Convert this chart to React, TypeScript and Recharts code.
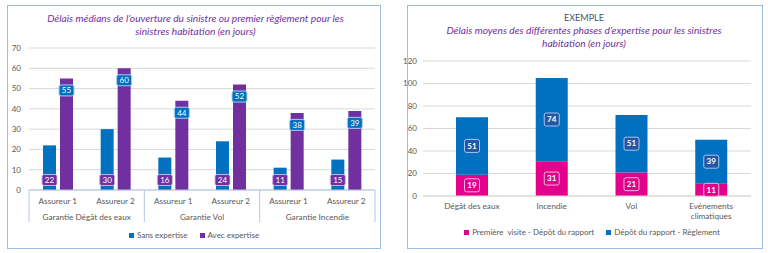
import React from 'react';
import { BarChart, Bar, XAxis, YAxis, CartesianGrid, LabelList } from 'recharts';

// ---------- Left chart data ----------
const assureurs = ['Assureur 1', 'Assureur 2', 'Assureur 1', 'Assureur 2', 'Assureur 1', 'Assureur 2'];
const garanties = [
  'Garantie Dégât des eaux', 'Garantie Dégât des eaux',
  'Garantie Vol', 'Garantie Vol',
  'Garantie Incendie', 'Garantie Incendie',
];
const sansExpertise = [22, 30, 16, 24, 11, 15];
const avecExpertise = [55, 60, 44, 52, 38, 39];
const leftTicks = [0, 10, 20, 30, 40, 50, 60, 70];
const leftTitle1 = "Délais médians de l\u2019ouverture du sinistre ou premier règlement pour les";
const leftTitle2 = 'sinistres habitation (en jours)';
const leftSeries = ['Sans expertise', 'Avec expertise'];

// ---------- Right chart data ----------
const phasesCategories = ['Dégât des eaux', 'Incendie', 'Vol', 'Evénements climatiques'];
const premiereVisite = [19, 31, 21, 11];
const depotReglement = [51, 74, 51, 39];
const rightTicks = [0, 20, 40, 60, 80, 100, 120];
const rightHeader = 'EXEMPLE';
const rightTitle1 = "Délais moyens des différentes phases d\u2019expertise pour les sinistres";
const rightTitle2 = 'habitation (en jours)';
const rightSeries = ['Première  visite - Dépôt du rapport', 'Dépôt du rapport - Règlement'];

const leftData = assureurs.map((a, i) => ({
  assureur: a,
  group: garanties[i],
  sans: sansExpertise[i],
  avec: avecExpertise[i],
}));

const rightData = phasesCategories.map((c, i) => ({
  cat: c,
  premiere: premiereVisite[i],
  depot: depotReglement[i],
}));

const FONT = 'Lato, "Open Sans", sans-serif';
const BLUE = '#0070C0';
const PURPLE = '#7030A0';
const PINK = '#E3008C';
const DARKBLUE = '#2356A4';
const AXIS_TXT = '#595959';
const SEP = '#B4C7E7';
const PANEL = '#9DBCE3';

// left chart layout
const L_W = 384;
const L_H = 253;
const L_MARGIN = { top: 48, right: 9, bottom: 31, left: 0 };
const L_YW = 29;
const L_PLOT_W = L_W - L_MARGIN.left - L_MARGIN.right - L_YW;

const makeBoxLabel = (fill: string, stroke: string, pos: 'base' | 'end' | 'mid', w: number, h: number, bold: boolean) =>
  (props: any) => {
    const x = Number(props.x);
    const y = Number(props.y);
    const width = Number(props.width);
    const height = Number(props.height);
    const cx = x + width / 2;
    let cy = y + height / 2;
    if (pos === 'base') cy = y + height - 10;
    if (pos === 'end') cy = y + 12;
    return (
      <g>
        <rect x={cx - w / 2} y={cy - h / 2} width={w} height={h} rx={2} ry={2} fill={fill} stroke={stroke} strokeWidth={1} />
        <text x={cx} y={cy} dy="0.35em" textAnchor="middle" fontSize={8} fontFamily={FONT} fontWeight={bold ? 700 : 400} fill="#ffffff">
          {props.value}
        </text>
      </g>
    );
  };

const AssureurTick = (props: any) => {
  const { x, y, payload, index } = props;
  const band = L_PLOT_W / assureurs.length;
  const lines: React.ReactNode[] = [];
  if (index % 2 === 0) {
    lines.push(<line key="l" x1={x - band / 2} x2={x - band / 2} y1={y} y2={y + 32} stroke={SEP} strokeWidth={1} />);
  }
  if (index === assureurs.length - 1) {
    lines.push(<line key="r" x1={x + band / 2} x2={x + band / 2} y1={y} y2={y + 32} stroke={SEP} strokeWidth={1} />);
  }
  return (
    <g>
      {lines}
      <text x={x} y={y + 14} textAnchor="middle" fontSize={8.2} fontFamily={FONT} fill={AXIS_TXT}>
        {payload.value}
      </text>
    </g>
  );
};

const GroupTick = (props: any) => {
  const { x, y, payload } = props;
  return (
    <text x={x} y={y + 14} textAnchor="middle" fontSize={8.2} fontFamily={FONT} fill={AXIS_TXT}>
      {payload.value}
    </text>
  );
};

const splitLabel = (s: string): string[] => {
  if (s.length <= 16) return [s];
  const words = s.split(' ');
  const half = Math.ceil(words.length / 2);
  return [words.slice(0, half).join(' '), words.slice(half).join(' ')];
};

const RightTick = (props: any) => {
  const { x, y, payload } = props;
  const lines = splitLabel(String(payload.value));
  return (
    <text x={x} y={y + 13} textAnchor="middle" fontSize={8.2} fontFamily={FONT} fill={AXIS_TXT}>
      {lines.map((l, i) => (
        <tspan key={i} x={x} dy={i === 0 ? 0 : 10}>{l}</tspan>
      ))}
    </text>
  );
};

const LegendItem = ({ color, label }: { color: string; label: string }) => (
  <div style={{ display: 'flex', alignItems: 'center', marginRight: 12, whiteSpace: 'pre' }}>
    <div style={{ width: 5, height: 5, background: color, marginRight: 3 }} />
    <span>{label}</span>
  </div>
);

export default function App() {
  return (
    <div style={{ position: 'absolute', left: 0, top: 0, width: 768, height: 253, background: '#fff', overflow: 'hidden', fontFamily: FONT }}>
      {/* Left panel */}
      <div style={{ position: 'absolute', left: 7, top: 5, width: 374, height: 244, border: `1px solid ${PANEL}`, boxSizing: 'border-box' }} />
      <div style={{ position: 'absolute', left: 0, top: 12, width: 391, textAlign: 'center', fontSize: 10.2, lineHeight: '13px', fontStyle: 'italic', color: PURPLE }}>
        <div>{leftTitle1}</div>
        <div>{leftTitle2}</div>
      </div>
      <div style={{ position: 'absolute', left: 0, top: 0 }}>
        <BarChart width={L_W} height={L_H} data={leftData} margin={L_MARGIN} barSize={13} barGap={4}>
          <CartesianGrid vertical={false} stroke="#D9D9D9" />
          <YAxis width={L_YW} domain={[0, 70]} ticks={leftTicks} axisLine={false} tickLine={false} tick={{ fontSize: 8, fill: AXIS_TXT, fontFamily: FONT }} interval={0} />
          <XAxis dataKey="assureur" axisLine={{ stroke: SEP }} tickLine={false} tickSize={0} tickMargin={0} height={16} interval={0} tick={<AssureurTick />} />
          <XAxis xAxisId="grp" dataKey="group" allowDuplicatedCategory={false} axisLine={false} tickLine={false} tickSize={0} tickMargin={0} height={16} interval={0} tick={<GroupTick />} />
          <Bar dataKey="sans" name={leftSeries[0]} fill={BLUE} isAnimationActive={false}>
            <LabelList dataKey="sans" content={makeBoxLabel(PURPLE, '#C9B3DD', 'base', 15, 11, false)} />
          </Bar>
          <Bar dataKey="avec" name={leftSeries[1]} fill={PURPLE} isAnimationActive={false}>
            <LabelList dataKey="avec" content={makeBoxLabel(BLUE, '#A9CDEB', 'end', 15, 11, false)} />
          </Bar>
        </BarChart>
      </div>
      <div style={{ position: 'absolute', left: 0, top: 230, width: 400, display: 'flex', justifyContent: 'center', fontSize: 8, color: AXIS_TXT }}>
        <LegendItem color={BLUE} label={leftSeries[0]} />
        <LegendItem color={PURPLE} label={leftSeries[1]} />
      </div>

      {/* Right panel */}
      <div style={{ position: 'absolute', left: 407, top: 5, width: 356, height: 244, border: `1px solid ${PANEL}`, boxSizing: 'border-box' }} />
      <div style={{ position: 'absolute', left: 407, top: 11, width: 354, textAlign: 'center', fontSize: 10.2, lineHeight: '13px' }}>
        <div style={{ color: '#44546A', fontSize: 9 }}>{rightHeader}</div>
        <div style={{ color: PURPLE, fontStyle: 'italic' }}>{rightTitle1}</div>
        <div style={{ color: PURPLE, fontStyle: 'italic' }}>{rightTitle2}</div>
      </div>
      <div style={{ position: 'absolute', left: 384, top: 0 }}>
        <BarChart width={384} height={253} data={rightData} margin={{ top: 61, right: 17, bottom: 31, left: 0 }} barSize={32}>
          <CartesianGrid vertical={false} stroke="#D9D9D9" />
          <YAxis width={39} domain={[0, 120]} ticks={rightTicks} axisLine={false} tickLine={false} tickMargin={0} tick={{ fontSize: 8, fill: AXIS_TXT, fontFamily: FONT }} interval={0} />
          <XAxis dataKey="cat" axisLine={{ stroke: '#D9D9D9' }} tickLine={false} tickSize={0} tickMargin={0} height={26} interval={0} padding={{ left: 9, right: 0 }} tick={<RightTick />} />
          <Bar dataKey="premiere" stackId="a" name={rightSeries[0]} fill={PINK} isAnimationActive={false}>
            <LabelList dataKey="premiere" content={makeBoxLabel(PINK, '#F6B3DA', 'mid', 15, 13, true)} />
          </Bar>
          <Bar dataKey="depot" stackId="a" name={rightSeries[1]} fill={BLUE} isAnimationActive={false}>
            <LabelList dataKey="depot" content={makeBoxLabel(DARKBLUE, '#A9C4EB', 'mid', 15, 13, true)} />
          </Bar>
        </BarChart>
      </div>
      <div style={{ position: 'absolute', left: 408, top: 227, width: 380, display: 'flex', justifyContent: 'center', fontSize: 8, color: AXIS_TXT }}>
        <LegendItem color={PINK} label={rightSeries[0]} />
        <LegendItem color={BLUE} label={rightSeries[1]} />
      </div>
    </div>
  );
}
